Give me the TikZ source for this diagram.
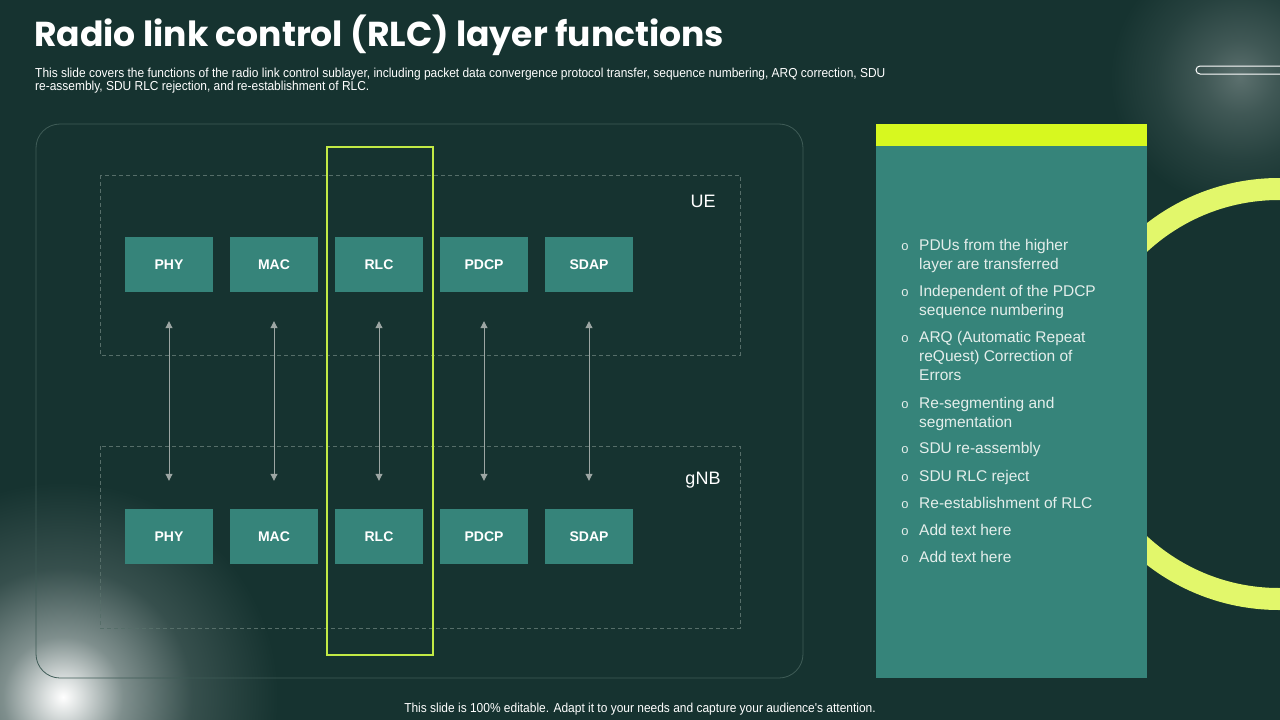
\documentclass[tikz,border=0pt]{standalone}
\usepackage{fontspec}
\usepackage{xcolor}
\usetikzlibrary{arrows.meta}
\setmainfont{Liberation Sans}
\newfontfamily\titlefont{Poppins}
\newfontfamily\narrowfont{Liberation Sans}[FakeStretch=0.92]
\definecolor{bg}{HTML}{163330}
\definecolor{tile}{HTML}{36847A}
\definecolor{framec}{HTML}{3F5C57}
\definecolor{dashc}{HTML}{566E69}
\definecolor{lime}{HTML}{D7F81F}
\definecolor{ringc}{HTML}{E2F76B}
\definecolor{hilite}{HTML}{C2EA45}
\definecolor{arrowc}{HTML}{9CA6A3}
\definecolor{ink}{HTML}{FFFFFF}
\definecolor{soft}{HTML}{E4EEEB}
\pgfdeclareradialshading{glowbig}{\pgfpoint{0bp}{0bp}}{color(0bp)=(white); color(2bp)=(white!85!bg); color(7bp)=(white!45!bg); color(15bp)=(white!14!bg); color(25bp)=(bg); color(50bp)=(bg)}
\pgfdeclareradialshading{glowsoft}{\pgfpoint{0bp}{0bp}}{color(0bp)=(white!30!bg); color(7bp)=(white!18!bg); color(16bp)=(white!7!bg); color(25bp)=(bg); color(50bp)=(bg)}
\tikzset{
  layer/.style={fill=tile, text=ink, font=\bfseries\fontsize{14}{16}\selectfont, minimum width=88pt, minimum height=55pt, inner sep=0pt},
  link/.style={draw=arrowc, line width=1pt, {Triangle[length=7pt,width=7pt]}-{Triangle[length=7pt,width=7pt]}, shorten <=29pt, shorten >=28pt},
  zone/.style={draw=dashc, dashed, dash pattern=on 4pt off 3pt, line width=0.7pt},
  lab/.style={text=ink, font=\fontsize{18}{20}\selectfont, inner sep=0pt},
  item/.style={text=soft, font=\fontsize{15.5}{19.3}\selectfont, anchor=base west, inner sep=0pt},
  bul/.style={text=soft, font=\fontsize{13}{14}\selectfont, anchor=base, inner sep=0pt},
}
\begin{document}
\begin{tikzpicture}[x=1pt,y=-1pt]
  \useasboundingbox (0,0) rectangle (1280,720);
  \fill[bg] (0,0) rectangle (1280,720);
  \begin{scope}
    \clip (0,0) rectangle (1280,720);
    \shade[shading=glowbig] (63,697) circle (215);
    \shade[shading=glowsoft] (1240,77) circle (130);
    \draw[ringc, line width=22pt] (1279,394) circle (205);
    \draw[ink, line width=1pt, rounded corners=4pt] (1196,66) rectangle (1300,74);
  \end{scope}

  % title
  \node[anchor=base west, text=ink, inner sep=0pt, font=\titlefont\bfseries\fontsize{34.6}{38}\selectfont] (title) at (34,46) {Radio link control (RLC) layer functions};
  \node[anchor=base west, text=ink, inner sep=0pt, font=\narrowfont\fontsize{13}{13.5}\selectfont] (sub) at (35,77) {\parbox[t]{900pt}{This slide covers the functions of the radio link control sublayer, including packet data convergence protocol transfer, sequence numbering, ARQ correction, SDU\\re-assembly, SDU RLC rejection, and re-establishment of RLC.}};

  % diagram
  \draw[framec, line width=0.8pt, rounded corners=24pt] (36,124) rectangle (803,678);
  \draw[zone] (100,175) rectangle (740,355);
  \draw[zone] (100,446) rectangle (740,628);
  \node[lab] (ue) at (703,201) {UE};
  \node[lab] (gnb) at (703,480) {gNB};
  \foreach \n [count=\i] in {PHY,MAC,RLC,PDCP,SDAP} {
    \node[layer] (ue\i) at ({169+105*(\i-1)},264.5) {\n};
    \node[layer] (gnb\i) at ({169+105*(\i-1)},536.5) {\n};
    \draw[link] (ue\i) -- (gnb\i);
  }
  \draw[draw=hilite, line width=1.1pt] (327,147) rectangle (433,655);

  % right panel
  \fill[tile] (876,146) rectangle (1147,678);
  \fill[lime] (876,124) rectangle (1147,146);
  \foreach \y/\t in {250/{PDUs from the higher\\layer are transferred},
                     296/{Independent of the PDCP\\sequence numbering},
                     342/{ARQ (Automatic Repeat\\reQuest) Correction of\\Errors},
                     408/{Re-segmenting and\\segmentation},
                     453.5/{SDU re-assembly},
                     481.5/{SDU RLC reject},
                     508.5/{Re-establishment of RLC},
                     535.5/{Add text here},
                     562.5/{Add text here}} {
    \node[bul] at (905,\y) {o};
    \node[item] at (919,\y) {\parbox[t]{210pt}{\t}};
  }

  \node[anchor=base, text=ink, inner sep=0pt, font=\narrowfont\fontsize{13}{14}\selectfont] (foot) at (640,712.5) {This slide is 100\% editable. Adapt it to your needs and capture your audience's attention.};
\end{tikzpicture}
\end{document}
